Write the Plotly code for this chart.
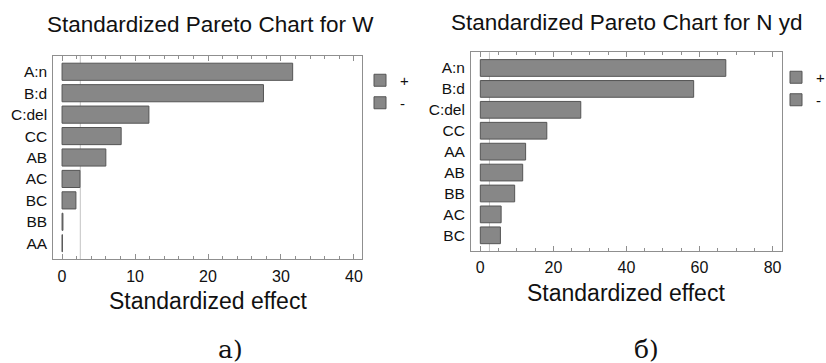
import plotly.graph_objects as go

# ---- data ----
W_terms = ["A:n", "B:d", "C:del", "CC", "AB", "AC", "BC", "BB", "AA"]
W_effects = [31.6, 27.6, 11.9, 8.1, 6.0, 2.45, 1.9, 0.12, 0.05]
N_terms = ["A:n", "B:d", "C:del", "CC", "AA", "AB", "BB", "AC", "BC"]
N_effects = [67.2, 58.4, 27.5, 18.2, 12.4, 11.6, 9.4, 5.7, 5.5]
t_crit = 2.5
W_ticks = [0, 10, 20, 30, 40]
N_ticks = [0, 20, 40, 60, 80]
W_title = "Standardized Pareto Chart for W"
N_title = "Standardized Pareto Chart for N yd"
x_title = "Standardized effect"
captions = ["a)", "б)"]
legend_names = ["+", "-"]

BAR = "#878787"
EDGE = "#555555"
FRAME = "#8f8f8f"
FONT = "Liberation Sans"
W, H = 826, 363

fig = go.Figure()

# left panel
fig.add_trace(go.Bar(x=W_effects, y=W_terms, orientation="h", name=legend_names[0],
                     xaxis="x", yaxis="y", legend="legend", width=0.8,
                     marker=dict(color=BAR, line=dict(color=EDGE, width=1))))
fig.add_trace(go.Bar(x=[None], y=[None], orientation="h", name=legend_names[1],
                     xaxis="x", yaxis="y", legend="legend", width=0.8,
                     marker=dict(color=BAR, line=dict(color=EDGE, width=1))))
# right panel
fig.add_trace(go.Bar(x=N_effects, y=N_terms, orientation="h", name=legend_names[0],
                     xaxis="x2", yaxis="y2", legend="legend2", width=0.8,
                     marker=dict(color=BAR, line=dict(color=EDGE, width=1))))
fig.add_trace(go.Bar(x=[None], y=[None], orientation="h", name=legend_names[1],
                     xaxis="x2", yaxis="y2", legend="legend2", width=0.8,
                     marker=dict(color=BAR, line=dict(color=EDGE, width=1))))

def xax(domain, rng, ticks, minor_dt):
    return dict(domain=domain, range=rng, tickmode="array", tickvals=ticks,
                ticktext=[str(t) for t in ticks],
                showline=True, linecolor=FRAME, linewidth=1, mirror="ticks",
                ticks="inside", ticklen=5, tickcolor=FRAME, tickwidth=1,
                minor=dict(tickmode="linear", tick0=0, dtick=minor_dt, ticks="inside",
                           ticklen=3, tickcolor=FRAME, tickwidth=1, showgrid=False),
                showgrid=False, zeroline=False,
                tickfont=dict(family=FONT, size=16, color="#111"),
                ticklabelstandoff=2, fixedrange=True)

def yax(domain, cats, anchor):
    return dict(domain=domain, type="category", categoryorder="array", categoryarray=cats,
                range=[len(cats) - 0.25, -0.75], anchor=anchor,
                showline=True, linecolor=FRAME, linewidth=1, mirror=True,
                ticks="", showgrid=False, zeroline=False,
                tickfont=dict(family=FONT, size=15.5, color="#111"),
                ticklabelstandoff=2, fixedrange=True)

fig.update_layout(
    width=W, height=H, margin=dict(l=0, r=0, t=0, b=0, autoexpand=False),
    paper_bgcolor="white", plot_bgcolor="white",
    font=dict(family=FONT, color="#111"),
    barmode="overlay",
    xaxis=xax([53.3 / W, 362 / W], [-1.2, 41.1], W_ticks, 2) | dict(anchor="y"),
    yaxis=yax([1 - 259.3 / H, 1 - 55.7 / H], W_terms, "x"),
    xaxis2=xax([471 / W, 781.7 / W], [-2.55, 82.5], N_ticks, 5) | dict(anchor="y2"),
    yaxis2=yax([1 - 251 / H, 1 - 52.3 / H], N_terms, "x2"),
    legend=dict(x=360 / W, y=1 - 64 / H, xanchor="left", yanchor="top",
                font=dict(family=FONT, size=15, color="#111"),
                bgcolor="rgba(0,0,0,0)", borderwidth=0, tracegroupgap=0),
    legend2=dict(x=776 / W, y=1 - 61 / H, xanchor="left", yanchor="top",
                 font=dict(family=FONT, size=15, color="#111"),
                 bgcolor="rgba(0,0,0,0)", borderwidth=0, tracegroupgap=0),
    showlegend=True,
)

# critical value reference lines
for xr, yr in (("x", "y domain"), ("x2", "y2 domain")):
    fig.add_shape(type="line", xref=xr, yref=yr, x0=t_crit, x1=t_crit, y0=0, y1=1,
                  line=dict(color="#c4c4c4", width=1), layer="below")

ann = []
ann.append(dict(text=W_title, x=210 / W, y=1 - 24 / H, font=dict(size=22.5, family=FONT)))
ann.append(dict(text=N_title, x=626 / W, y=1 - 23 / H, font=dict(size=22.5, family=FONT)))
ann.append(dict(text=x_title, x=208 / W, y=1 - 301 / H, font=dict(size=23, family=FONT)))
ann.append(dict(text=x_title, x=626 / W, y=1 - 293 / H, font=dict(size=23, family=FONT)))
ann.append(dict(text=captions[0], x=231 / W, y=1 - 349 / H, font=dict(size=25, family="DejaVu Serif")))
ann.append(dict(text=captions[1], x=646 / W, y=1 - 349 / H, font=dict(size=25, family="DejaVu Serif")))
for a in ann:
    a.update(xref="paper", yref="paper", showarrow=False, xanchor="center", yanchor="middle")
    a["font"]["color"] = "#111"
fig.update_layout(annotations=ann)

fig.write_html("out.html")
